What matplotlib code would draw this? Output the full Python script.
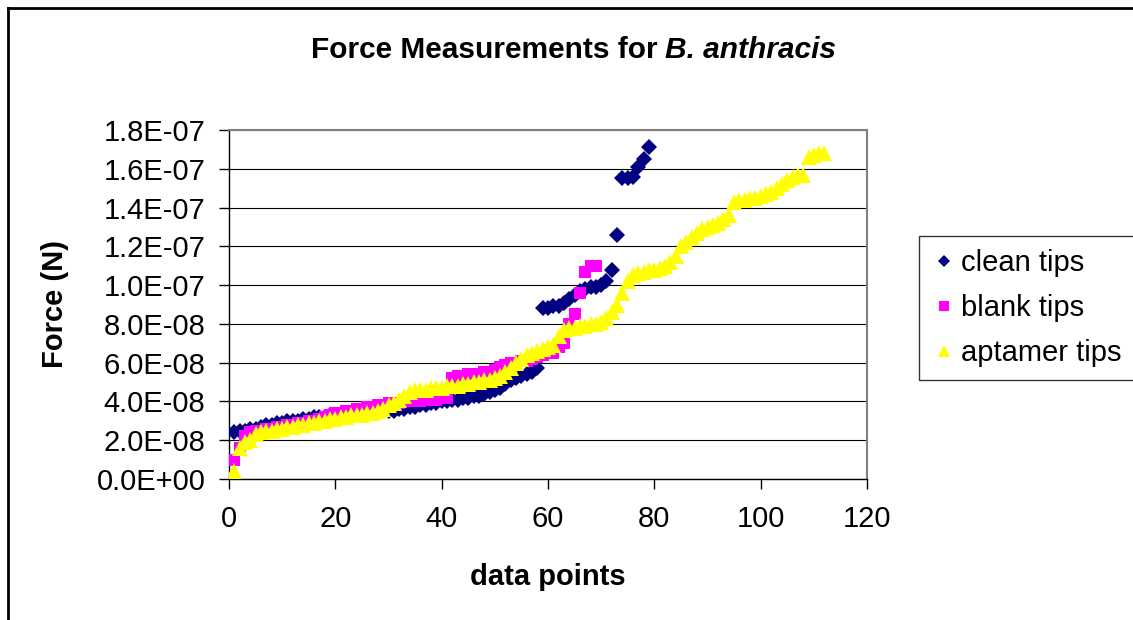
import matplotlib
matplotlib.use('Agg')
import matplotlib.pyplot as plt
from matplotlib.lines import Line2D
from matplotlib.ticker import FuncFormatter, MultipleLocator

plt.rcParams['font.family'] = ['Liberation Sans', 'DejaVu Sans']

# forces in units of 1E-08 N, one value per data point (x = 1..n)
clean_tips = [
    2.4, 2.5, 2.5, 2.6, 2.6, 2.7, 2.8, 2.8, 2.9, 2.9,
    3.0, 3.0, 3.0, 3.1, 3.1, 3.2, 3.2, 3.2, 3.3, 3.3,
    3.3, 3.3, 3.4, 3.4, 3.4, 3.5, 3.5, 3.5, 3.5, 3.5,
    3.5, 3.6, 3.6, 3.7, 3.7, 3.8, 3.8, 3.9, 3.9, 4.0,
    4.0, 4.1, 4.1, 4.2, 4.2, 4.3, 4.3, 4.4, 4.5, 4.6,
    4.7, 4.9, 5.1, 5.2, 5.3, 5.4, 5.5, 5.7,
    8.8, 8.8, 8.9, 8.9, 9.1, 9.3, 9.5, 9.7, 9.8, 9.9, 9.9, 10.0, 10.2, 10.8,
    12.6, 15.5, 15.5, 15.6, 16.1, 16.5, 17.1,
]
blank_tips = [
    1.0, 1.6, 2.2, 2.4, 2.5, 2.5, 2.6, 2.6, 2.7, 2.7,
    2.8, 2.8, 2.9, 2.9, 3.0, 3.0, 3.1, 3.2, 3.3, 3.4,
    3.4, 3.5, 3.5, 3.6, 3.6, 3.7, 3.7, 3.8, 3.8, 3.9,
    3.9, 3.9, 4.0, 4.0, 4.0, 4.0, 4.1, 4.1, 4.1, 4.2, 4.2,
    5.2, 5.3, 5.3, 5.4, 5.4, 5.4, 5.5, 5.5, 5.6,
    5.8, 5.9, 6.0, 6.0, 6.1, 6.1, 6.2, 6.3, 6.4, 6.5,
    6.5, 6.8, 7.0, 8.0, 8.5, 9.6, 10.7, 11.0, 11.0,
]
aptamer_tips = [
    0.4, 1.6, 1.9, 2.0, 2.3, 2.4, 2.5, 2.5, 2.6, 2.6,
    2.7, 2.7, 2.8, 2.8, 2.9, 2.9, 3.0, 3.0, 3.1, 3.1,
    3.2, 3.2, 3.3, 3.3, 3.3, 3.4, 3.4, 3.5, 3.6, 3.8,
    3.9, 4.1, 4.3, 4.5, 4.6, 4.6, 4.6, 4.7, 4.7, 4.7,
    4.8, 4.8, 4.8, 4.9, 4.9, 5.0, 5.0, 5.1, 5.1, 5.2,
    5.3, 5.5, 5.7, 6.0, 6.2, 6.4, 6.5, 6.6, 6.7, 6.8,
    6.9, 7.4, 7.7, 7.8, 7.8, 7.9, 7.9, 8.0, 8.0, 8.1,
    8.3, 8.6, 9.0, 9.6, 10.2, 10.5, 10.6, 10.7, 10.8, 10.8,
    10.9, 11.0, 11.2, 11.5, 12.0, 12.2, 12.5, 12.7, 12.9, 13.0,
    13.1, 13.2, 13.4, 13.6, 14.3, 14.4, 14.4, 14.5, 14.5, 14.6,
    14.7, 14.8, 15.0, 15.2, 15.4, 15.6, 15.7, 15.7, 16.6, 16.7, 16.8, 16.8,
]

series = [
    ('clean tips', clean_tips, 'D', '#000080', 8.5),
    ('blank tips', blank_tips, 's', '#FF00FF', 9),
    ('aptamer tips', aptamer_tips, '^', '#FFFF00', 11),
]

W, H = 1133, 620
FS = 21

fig = plt.figure(figsize=(W / 100, H / 100), dpi=100)
ax = fig.add_axes([229 / W, 1 - 479 / H, 638 / W, 349 / H])

for name, vals, marker, color, size in series:
    xs = list(range(1, len(vals) + 1))
    ys = [v * 1e-8 for v in vals]
    ax.plot(xs, ys, linestyle='none', marker=marker, color=color,
            markersize=size, markeredgewidth=0, label=name, zorder=3)

ax.set_xlim(0, 120)
ax.set_ylim(0, 1.8e-7)
ax.xaxis.set_major_locator(MultipleLocator(20))
ax.yaxis.set_major_locator(MultipleLocator(2e-8))
ax.yaxis.set_major_formatter(FuncFormatter(lambda v, p: f'{v:.1E}'))
ax.grid(axis='y', color='black', linewidth=0.8)
ax.set_axisbelow(True)
ax.tick_params(direction='out', length=7, width=1, labelsize=FS)
ax.tick_params(axis='y', pad=10)
ax.tick_params(axis='x', pad=12)

for side in ['top', 'right']:
    ax.spines[side].set_color('#808080')
    ax.spines[side].set_linewidth(1.5)
for side in ['left', 'bottom']:
    ax.spines[side].set_color('black')
    ax.spines[side].set_linewidth(1)

ax.set_xlabel('data points', fontsize=FS, fontweight='bold', va='center')
ax.set_ylabel('Force (N)', fontsize=FS, fontweight='bold', va='center')
ax.xaxis.set_label_coords((548 - 229) / 638, (479 - 577) / 349)
ax.yaxis.set_label_coords((55 - 229) / 638, 0.5)

# title: bold part + bold italic species name, centred as one line
TFS = 21.5
t1 = fig.text(0, 1 - 50 / H, 'Force Measurements for', fontsize=TFS,
              fontweight='bold', va='center', ha='left')
t2 = fig.text(0, 1 - 50 / H, 'B. anthracis', fontsize=TFS, fontweight='bold',
              fontstyle='italic', va='center', ha='left')
fig.canvas.draw()
r = fig.canvas.get_renderer()
w1 = t1.get_window_extent(r).width
w2 = t2.get_window_extent(r).width
gap = TFS * 100 / 72 * 0.278
left = (311 + 836) / 2 - (w1 + gap + w2) / 2
t1.set_x(left / W)
t2.set_x((left + w1 + gap) / W)

handles = [Line2D([], [], linestyle='none', marker=m, color=c, markersize=s * 0.75,
                  markeredgewidth=0) for _, _, m, c, s in series]
leg = fig.legend(handles, [s[0] for s in series], loc='upper left',
                 bbox_to_anchor=(919 / W, 1 - 236 / H), fontsize=FS,
                 frameon=True, fancybox=False, edgecolor='black', handlelength=0.8,
                 handletextpad=0.2, borderpad=0.45, labelspacing=0.58, borderaxespad=0)
leg.get_frame().set_linewidth(1)

# outer chart frame (left and top edges visible)
fig.add_artist(Line2D([8 / W, 8 / W], [0, 1 - 7.5 / H], color='black', linewidth=2))
fig.add_artist(Line2D([8 / W, 1], [1 - 7.5 / H, 1 - 7.5 / H], color='black', linewidth=2))

fig.savefig('out.png', dpi=100)
